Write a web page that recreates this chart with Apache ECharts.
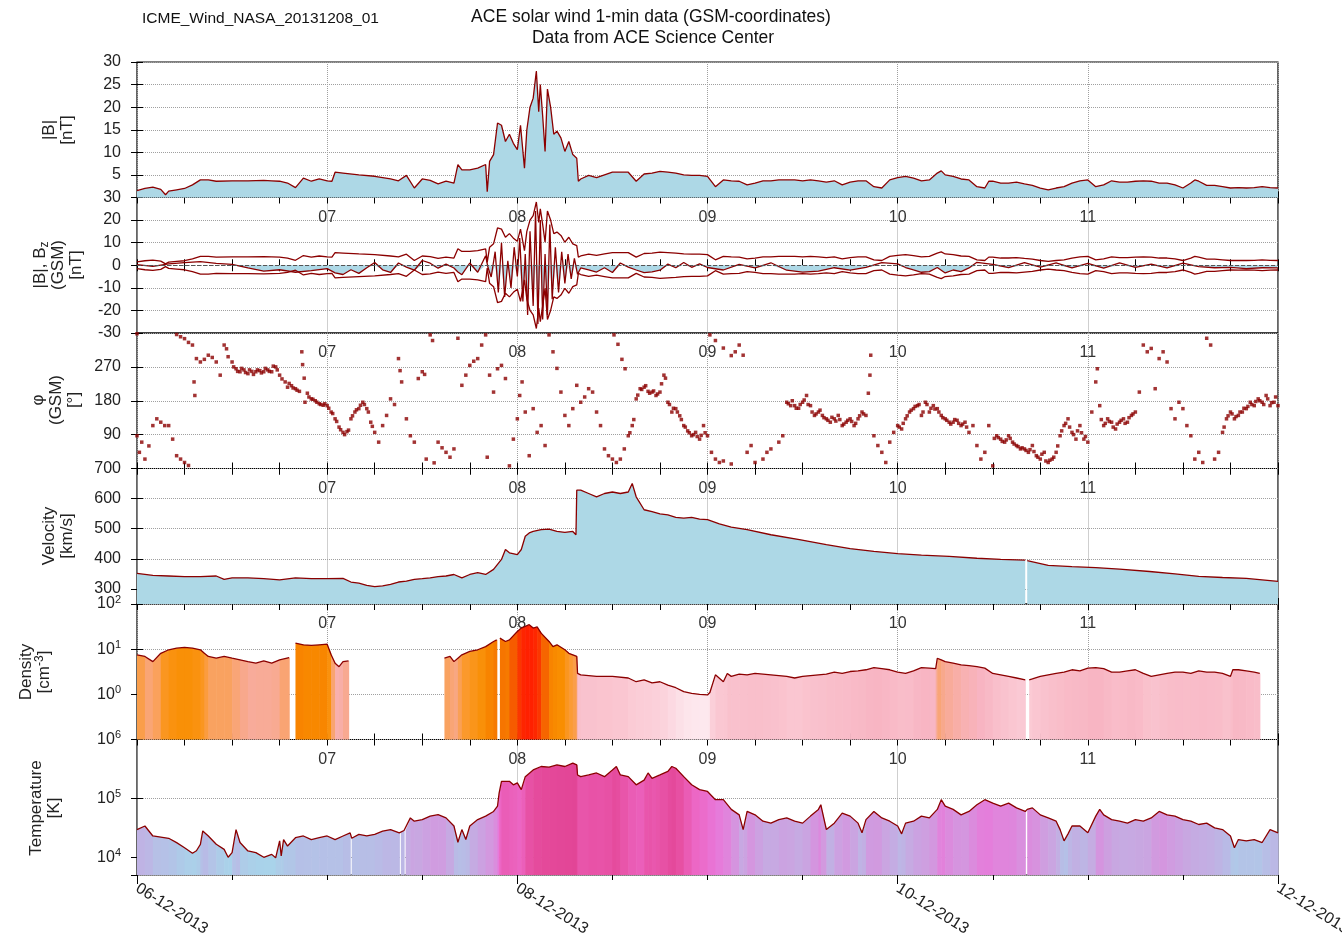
<!DOCTYPE html>
<html>
<head>
<meta charset="utf-8">
<script src="https://cdn.jsdelivr.net/npm/echarts@6/dist/echarts.min.js"></script>
<style>
html,body{margin:0;padding:0;background:#fff}
#chart{width:1342px;height:944px}
</style>
</head>
<body>
<div id="chart"></div>
<script>
// hours after 06-12-2013 00:00
var bMag = [[0,1.5],[1,2],[2,2.3],[3,1.8],[3.6,0.6],[4,1.4],[5,1.7],[6,2],[7,2.8],[8,3.9],[9,3.9],[10,3.6],[12,3.7],[14,3.7],[16,3.8],[17,3.7],[18,3.6],[19,3.2],[20,2.2],[21,4.3],[22,3.6],[23,4.1],[24,3.7],[24.6,3.6],[25,5.6],[26,5.4],[28,5],[30,4.7],[32,4.1],[33,3.7],[34,4.9],[35,2.1],[36,4.1],[37,3.8],[38,3],[39,3.6],[40,3.2],[40.5,7.3],[41,6.1],[42,6.1],[43,6.5],[44,7.3],[44.2,1.3],[44.5,8],[45,9.5],[45.5,16.5],[46,16],[46.5,12.4],[47,14],[47.5,12],[48,10.6],[48.4,16],[48.9,6.5],[49.2,15],[49.6,20],[50,22],[50.4,28],[50.7,19],[50.9,25],[51.2,18],[51.5,10.2],[51.8,24],[52.2,20],[52.6,14],[53,14.7],[53.5,13.2],[54,10.2],[54.5,12.4],[55,9.5],[55.5,8.7],[55.7,3.6],[56,4.1],[57,4.9],[58,4.4],[59,5],[60,5.6],[61,5.6],[62,5.6],[63,3.6],[64,5.2],[65,5.4],[66,5.8],[67,5.6],[68,5.4],[69,5],[70,4.9],[71,4.9],[72,4.7],[73,2.4],[74,3.9],[75,3.7],[76,3.6],[77,2.8],[78,3.2],[79,3.7],[80,3.7],[81,3.9],[82,3.9],[83,3.9],[84,3.7],[85,3.9],[86,3.7],[87,3.4],[88,3.7],[89,2.8],[90,3.4],[91,3.7],[92,3.7],[93,2.4],[94,2.1],[95,3.9],[96,4.4],[97,4.7],[98,4.3],[99,3.7],[100,3.9],[101,5.4],[101.5,5.9],[102,5],[103,4.7],[104,4.1],[105,3.9],[106,2.4],[107,2.1],[107.5,3.6],[108,3.6],[109,3.2],[110,3.2],[111,3.4],[112,3],[113,2.7],[114,2.1],[115,1.7],[116,2.1],[117,2.4],[118,3.2],[119,3.7],[120,3.9],[121,2.4],[122,2.8],[123,3.7],[124,3.4],[125,3.4],[126,3.6],[127,3.7],[128,3.6],[129,3.2],[130,3.2],[131,2.8],[132,2.1],[133,3.2],[133.5,3.9],[134,3.6],[135,2.7],[136,2.7],[137,2.4],[138,2.1],[139,2.2],[140,2.1],[141,2.2],[142,2.4],[143,2.2],[144,2.1]];

var bz = [[0,0.3],[2,-0.5],[4,0.6],[6,1.2],[8,1.6],[10,0.8],[12,0.4],[14,-1.2],[16,-2.6],[18,-2],[20,-3.1],[22,-2.4],[24,-1.5],[25,-3.4],[26,-4.1],[27,-2],[28,-3.6],[29,-1.1],[30,1.2],[31,-2],[32,-3.2],[33,1],[34,-0.8],[35,-2.2],[36,2.1],[37,0.9],[38,-1.3],[39,0.5],[40,-1.2],[40.5,-3],[41,-4.2],[42,1],[43,-3.1],[44,4.2],[44.3,-1],[44.7,-5.2],[45.2,6],[45.6,-12],[46,10],[46.4,-14],[46.8,2],[47.2,-10],[47.6,8],[48,-5],[48.3,12],[48.7,-16],[49,5],[49.3,-22],[49.6,15],[50,-18],[50.3,24],[50.6,-26],[50.9,20],[51.2,-24],[51.5,5],[51.8,-22],[52.1,18],[52.4,-15],[52.8,8],[53.2,-12],[53.6,6],[54,-8],[54.4,5],[54.8,-6],[55.2,3],[55.6,-4],[56,-1.2],[57,-2.1],[58,-3],[59,-1.1],[60,-3.2],[61,1],[62,-0.8],[63,-2.1],[64,-3.3],[65,-2.9],[66,-2.2],[67,0.5],[68,-1.1],[69,1.2],[70,-0.9],[71,0.6],[72,-1],[74,-2.1],[76,0.4],[78,-1.2],[80,1.1],[82,-2.2],[84,-3],[86,-2.6],[88,-1.1],[90,-2.2],[92,-0.9],[94,1.2],[96,0.6],[97,-1],[98,-2.1],[99,-3.1],[100,-2.8],[101,-1],[102,-3.4],[103,-2.1],[104,-2.8],[105,-1.2],[106,1.3],[108,0.4],[110,-1.1],[112,1.2],[114,-0.8],[116,1.1],[118,-1.2],[120,0.8],[122,-1.3],[124,1],[126,-0.9],[128,0.5],[130,-1.2],[132,0.9],[134,-0.6],[136,-1.1],[138,-0.9],[140,-1.5],[142,-1.1],[144,-1.2]];

var phi = [[0,358],[0,87],[0.3,43],[0.6,70],[1,25],[1.5,60],[2,114],[2.5,132],[3,123],[3.5,114],[4,114],[4.5,78],[5,34],[5.5,25],[6,16],[6.5,8],[5,356],[5.5,350],[6,345],[6.5,335],[7,328],[7.2,230],[7.3,194],[7.5,292],[8,283],[8.5,290],[9,301],[9.5,295],[10,283],[10.5,248],[11,328],[11.3,318],[11.5,297],[12,283],[12.5,265],[13,257],[13.5,262],[14,252],[14.5,258],[15,257],[15.5,260],[16,257],[16.5,262],[17,257],[17.5,270],[18,248],[18.3,238],[19,216],[19.5,220],[20,212],[20.5,205],[20.8,310],[20.9,276],[21.1,240],[21.2,176],[21.5,200],[22,185],[22.5,180],[23,172],[23.5,168],[24,167],[24.5,150],[25,132],[25.5,110],[26,96],[26.5,98],[27,132],[27.5,150],[28,159],[28.5,176],[29,159],[29.5,123],[30,96],[30.5,70],[31,114],[31.5,141],[32,185],[32.5,170],[33,292],[33.2,260],[33.4,230],[34,132],[34.5,87],[35,70],[35.5,239],[36,257],[36.3,250],[36.5,25],[37,355],[37.3,340],[37.5,15],[38,70],[38.5,55],[39,43],[39.5,30],[40,52],[40.5,346],[41,221],[41.5,248],[42,274],[42.5,285],[43,292],[43.5,328],[44,355],[44.2,30],[44.5,248],[45,203],[45.5,265],[46,274],[46.5,239],[47,7],[47.5,78],[48,132],[48.3,194],[48.6,230],[49,150],[49.5,34],[50,159],[50.5,96],[51,114],[51.5,61],[52,355],[52.5,310],[53,266],[53.5,203],[54,141],[54.5,114],[55,159],[55.5,221],[56,176],[56.5,190],[57,212],[57.5,203],[58,150],[58.5,114],[59,52],[59.5,34],[60,25],[60.5,16],[61,25],[61.5,52],[60.2,355],[60.7,330],[61.2,290],[61.6,265],[62,87],[62.5,114],[63,185],[63.5,212],[64,216],[64.5,205],[65,203],[65.5,194],[66,203],[66.5,248],[67,176],[67.5,150],[68,159],[68.5,140],[69,114],[69.5,100],[70,87],[70.5,96],[71,78],[71.5,114],[72,87],[72.5,43],[73,25],[73.5,16],[74,20],[75,12],[72.3,355],[73,340],[74,320],[75,300],[75.5,310],[76,328],[76.5,301],[77,43],[77.5,61],[78,16],[79,25],[79.5,43],[80,52],[81,70],[81.5,87],[82,176],[82.5,167],[83,167],[83.5,160],[84,176],[84.5,194],[85,167],[85.5,141],[86,150],[86.5,141],[87,132],[87.5,123],[88,132],[88.5,141],[89,114],[89.5,123],[90,132],[90.5,114],[91,132],[91.5,150],[92,141],[92.3,200],[92.5,248],[92.6,301],[93,87],[93.5,61],[94,43],[94.5,16],[95,70],[95.5,96],[96,114],[96.5,105],[97,132],[97.5,150],[98,159],[98.5,167],[99,141],[99.5,176],[100,150],[100.5,167],[101,159],[101.5,141],[102,132],[102.5,123],[103,123],[103.5,128],[104,114],[104.5,123],[105,96],[105.5,114],[106,61],[106.5,25],[107,43],[107.5,114],[108,7],[108.5,87],[109,78],[109.5,70],[110,87],[110.5,70],[111,61],[111.5,52],[112,52],[112.5,43],[113,61],[113.5,34],[114,25],[114.5,43],[115,16],[115.5,25],[116,43],[116.5,87],[117,114],[117.5,132],[118,96],[118.5,78],[119,114],[119.5,78],[120,70],[120.5,150],[121,230],[121.2,265],[121.5,167],[122,114],[122.5,132],[123,123],[123.5,105],[124,123],[124.5,132],[125,123],[125.5,141],[126,150],[126.5,203],[127,328],[127.5,310],[128,319],[128.5,212],[129,292],[129.5,310],[130,283],[130.5,159],[131,132],[131.5,176],[132,159],[132.5,114],[133,87],[133.5,25],[134,43],[134.5,16],[135,346],[135.5,328],[136,25],[136.5,43],[137,96],[137.5,132],[138,150],[138.5,132],[139,141],[139.5,150],[140,159],[140.5,176],[141,167],[141.5,185],[142,176],[142.5,194],[143,167],[143.5,176],[144,167],
	[12.2,270],[12.7,258],[13.2,266],[13.7,255],[14.2,262],[14.7,250],[15.2,262],[15.7,254],[16.2,266],[16.7,258],[17.2,272],[17.7,262],[18.7,230],[19.2,226],[19.7,214],[20.2,208],[21.7,190],[22.2,184],[22.7,176],[23.2,170],[23.7,172],[24.2,160],[24.7,146],[25.2,125],[25.7,103],[26.2,90],[26.7,102],[27.2,140],[27.7,156],[28.2,168],[28.7,170],[29.2,150],[29.7,112],
	[62.2,95],[62.7,130],[63.2,195],[63.7,210],[64.2,220],[64.7,200],[65.2,206],[65.7,198],[66.2,225],[66.7,240],[67.2,170],[67.7,160],[68.2,150],[68.7,130],[69.2,110],[69.7,95],[70.2,90],[70.7,85],[71.2,88],[71.7,95],
	[82.2,172],[82.7,180],[83.2,160],[83.7,170],[84.2,182],[84.7,170],[85.2,150],[85.7,145],[86.2,155],[86.7,135],[87.2,128],[87.7,136],[88.2,126],[88.7,130],[89.2,118],[89.7,128],[90.2,125],[90.7,120],[91.2,140],[91.7,145],
	[96.2,110],[96.7,120],[97.2,140],[97.7,155],[98.2,165],[98.7,170],[99.2,150],[99.7,170],[100.2,160],[100.7,158],[101.2,150],[101.7,135],[102.2,128],[102.7,118],[103.2,130],[103.7,120],[104.2,118],[104.7,110],
	[108.2,80],[108.7,82],[109.2,72],[109.7,76],[110.2,80],[110.7,65],[111.2,58],[111.7,55],[112.2,48],[112.7,50],[113.2,45],[113.7,30],[114.2,38],[114.7,20],[115.2,22],[115.7,30],[116.2,60],[116.7,100],[117.2,120],[117.7,110],[118.2,90],[118.7,100],[119.2,95],[119.7,85],
	[121.7,130],[122.2,120],[122.7,125],[123.2,110],[123.7,118],[124.2,128],[124.7,120],[125.2,135],[125.7,145],
	[137.2,110],[137.7,140],[138.2,145],[138.7,138],[139.2,150],[139.7,160],[140.2,165],[140.7,170],[141.2,178],[141.7,180],[142.2,170],[142.7,185],[143.2,175],[143.7,190]];

var velocity = [[0,352],[2,345],[4,343],[6,341],[8,341],[10,343],[11,332],[12,337],[14,337],[16,334],[18,330],[20,337],[22,334],[24,334],[26,335],[27,323],[28,319],[29,312],[30,308],[31,310],[32,315],[33,323],[34,326],[35,332],[36,334],[37,337],[38,341],[39,343],[40,348],[41,337],[42,348],[43,354],[44,348],[45,365],[46,398],[46.5,431],[47,420],[48,414],[48.5,431],[49,475],[49.5,486],[50,491],[51,497],[52,499],[53,491],[54,488],[55,491],[55.4,480],[55.5,628],[56,628],[57,617],[58,606],[59,617],[60,622],[61,617],[62,622],[62.5,650],[63,606],[64,563],[65,557],[66,549],[67,546],[68,538],[69,535],[70,538],[71,532],[72,530],[73.5,516],[75,505],[77,497],[80,480],[83.6,464],[87,447],[90,434],[93,425],[96,417],[99,412],[102.5,408],[106,402],[109,398],[112.1,396],[112.2,null],[112.35,394],[115,378],[118,374],[121,371],[124,366],[127.8,358],[131,350],[134,342],[137,338],[140,335],[142,330],[144,325]];

var density = [[0,7.5],[1,6.9],[2,5.3],[3,8.1],[4,9.7],[5,10.5],[6,10.9],[7,10.5],[8,9.7],[8.5,8.1],[9,6.9],[10,6.3],[11,6.9],[12,6.3],[13,5.8],[14,5.3],[15,4.9],[16,5.5],[17,4.9],[18,5.8],[19.2,6.5],[19.3,null],[20,13.6],[21,12.5],[22,12.1],[23,12.5],[24,12.9],[24.5,7.5],[25,4.9],[25.5,4.1],[26,5.3],[26.7,5.5],[26.8,null],[38.8,6.3],[39.5,6.9],[40,5.3],[40.5,6.3],[41,7.5],[42,8.9],[43,9.7],[44,11.4],[45,14.8],[45.4,16.1],[45.6,null],[45.8,17.6],[46.5,14.8],[47,16.1],[48,24.7],[48.5,29.3],[49,31.9],[49.5,34.8],[50,29.3],[50.5,31],[51,22.7],[52,14.8],[52.5,11.4],[53,12.5],[54,9.7],[54.5,8.1],[55,7.5],[55.5,6.9],[55.6,2.9],[56,2.7],[58,2.5],[60,2.5],[62,2.3],[63,1.9],[64,2.1],[65,1.8],[66,1.9],[67,1.6],[68,1.4],[69,1.15],[70,1.05],[71,1.0],[72,0.97],[72.3,1.1],[73,2.7],[74,1.9],[74.5,2.9],[75,2.5],[76,2.8],[77,2.7],[78,2.9],[79,2.8],[80,2.7],[81,2.6],[82,2.5],[83,2.3],[84,2.5],[85,2.6],[86,2.7],[87,2.8],[88,3.1],[89,2.9],[90,3.2],[91,3.3],[92,3.5],[93,3.9],[94,3.7],[95,3.5],[96,3.1],[97,2.9],[98,3.3],[99,3.9],[100,3.8],[100.8,3.7],[101,6.3],[101.5,5.8],[102,5.3],[103,4.9],[104,4.5],[105,4.3],[106,4.1],[107,3.8],[108,2.9],[109,2.7],[110,2.5],[111,2.3],[112.1,2.1],[112.2,null],[112.6,2.1],[113,2.2],[114,2.5],[115,2.7],[116,2.9],[117,3.1],[118,3.5],[119,3.3],[120,3.8],[121,3.9],[122,3.7],[123,3.1],[124,3.1],[125,3.3],[126,3.5],[127,2.9],[128,2.5],[129,2.7],[130,2.9],[131,3.1],[132,3.1],[133,2.9],[134,3.3],[135,3.1],[136,3.1],[137,2.9],[138,2.5],[138.3,3.5],[139,3.5],[140,3.3],[141,3.1],[141.7,2.9]];

var temperature = [[0,29500],[1,34000],[2,23000],[3,22000],[4,21000],[5,17700],[6,14500],[7,11700],[7.5,12900],[8,16500],[8.3,28000],[9,23000],[10,16600],[11,13600],[11.5,10000],[12,12000],[12.5,29500],[13,17800],[14,12800],[15,12000],[16,10000],[17,11200],[17.5,9800],[18,19000],[18.2,10500],[18.5,20000],[19,15500],[20,21500],[21,23000],[22,20000],[23,21500],[24,23000],[25,20000],[26,23000],[26.9,26000],[27,null],[27.1,21000],[28,24500],[29,23000],[30,24500],[31,27700],[32,29600],[33.1,26000],[33.2,null],[33.3,28000],[33.7,28500],[33.8,null],[33.9,29000],[34.5,46600],[35,41000],[36,43600],[37,50000],[38,52900],[39,46600],[40,34000],[40.5,18000],[41,29500],[41.5,20000],[42,34000],[43,43600],[44,50000],[45,60000],[45.5,74000],[45.7,123000],[46,195000],[47,195000],[47.5,170000],[48,183000],[48.5,141000],[49,234000],[50,304000],[51,348000],[52,339000],[53,370000],[54,348000],[55,398000],[55.5,370000],[55.6,250000],[56,234000],[57,250000],[58,270000],[59,234000],[60,304000],[60.5,348000],[61,250000],[62,234000],[63,170000],[64,204000],[64.5,270000],[65,219000],[65.5,234000],[66,250000],[67,288000],[67.5,348000],[68,325000],[69,234000],[70,170000],[71,141000],[72,131000],[73,95000],[74,95000],[75,65000],[76,52500],[76.5,29500],[77,60000],[78,52500],[79,41000],[80,38000],[81,43600],[82,46600],[83,41000],[84,38000],[85,50000],[86,65000],[86.3,78000],[87,29500],[88,38000],[89,56000],[90,50000],[91,38000],[91.5,26000],[92,43600],[93,60000],[94,46600],[95,41000],[96,34000],[96.5,25000],[97,38000],[98,41000],[99,50000],[100,46600],[101,65000],[101.5,95000],[102,74000],[103,65000],[104,52500],[105,60000],[106,78000],[107,95000],[108,83000],[109,74000],[110,83000],[111,69000],[112.1,60000],[112.2,null],[112.35,65000],[113,69000],[114,52500],[115,46600],[116,41000],[116.5,29500],[117,19000],[117.5,25000],[118,34000],[119,34000],[120,26000],[121,50000],[121.5,65000],[122,52500],[123,43600],[124,41000],[125,38000],[126,43600],[127,41000],[128,46600],[129,60000],[130,52500],[131,50000],[132,43600],[133,41000],[134,36000],[135,38000],[136,31500],[137,29500],[138,23000],[138.5,14500],[139,20000],[140,19000],[141,20000],[142,17800],[143,29500],[144,26000]];

var dayLabels = ['06', '07', '08', '09', '10', '11', '12'];
var dateLabels = ['06-12-2013', '08-12-2013', '10-12-2013', '12-12-2013'];
var velocityTicks = [300, 400, 500, 600, 700];

var FONT = "'Liberation Sans',Arial,sans-serif";
var LINE = '#8b0000';
var FILL = '#add8e6';
var TOP = 62, H = 135.5, LEFT = 137, W = 1141;

// polygons under a line, coloured by log10 of the value
function fillData(arr, lo, hi){
	var out = [];
	for(var i=0;i<arr.length-1;i++){
		var a = arr[i], b = arr[i+1];
		if(a[1]==null || b[1]==null) continue;
		var c = Math.log10((a[1]+b[1])/2);
		c = Math.max(lo, Math.min(hi, c));
		out.push([a[0], b[0], a[1], b[1], c]);
	}
	return out;
}

function renderFill(params, api){
	var p0 = api.coord([api.value(0), api.value(2)]);
	var p1 = api.coord([api.value(1), api.value(3)]);
	var base = params.coordSys.y + params.coordSys.height;
	return {
		type: 'polygon',
		shape: {points: [[p0[0], p0[1]], [p1[0]+0.6, p1[1]], [p1[0]+0.6, base], [p0[0], base]]},
		style: {fill: api.visual('color')}
	};
}

var grids = [], xAxes = [], yAxes = [];
for(var i=0;i<6;i++){
	grids.push({left:LEFT, top:TOP+i*H, width:W, height:H, show:true, borderColor:'#000', borderWidth:1.2,
		backgroundColor:'transparent', containLabel:false, outerBoundsMode:'none'});
	var last = (i == 5);
	// bottom axis
	xAxes.push({
		gridIndex:i, type:'value', min:0, max:144, interval: last ? 48 : 24, position:'bottom',
		axisLine:{show:false},
		axisTick:{show:true, inside:!last, length: last ? 9 : 6, lineStyle:{color:'#000'}},
		minorTick:{show:true, splitNumber:4, length: last ? 5 : 6, lineStyle:{color:'#000'}},
		splitLine:{show:true, lineStyle:{color:'#a0a0a0', type:'dotted', width:1}},
		axisLabel: last ? {
			rotate:-32, margin:12, fontSize:16, color:'#222', fontFamily:FONT,
			formatter:function(v){ return dateLabels[v/48] || ''; }
		} : {
			margin:12, fontSize:16, color:'#333', fontFamily:FONT,
			formatter:function(v){ return (v>0 && v<144) ? dayLabels[v/24] : ''; }
		}
	});
	// mirrored ticks on top
	xAxes.push({
		gridIndex:i, type:'value', min:0, max:144, interval:24, position:'top',
		axisLine:{show:false},
		axisTick:{show:true, inside:true, length:6, lineStyle:{color:'#000'}},
		minorTick:{show:true, splitNumber:4, length:6, lineStyle:{color:'#000'}},
		splitLine:{show:false}, axisLabel:{show:false}
	});
}

var labelBase = {margin:16, fontSize:16, color:'#222', fontFamily:FONT};
var supRich = {sup:{fontSize:11, fontFamily:FONT, color:'#222', padding:[0,0,9,0]}};
function logLabel(v){ return '10{sup|' + Math.round(Math.log10(v)) + '}'; }

var ySpecs = [
	{type:'value', min:0, max:30, interval:5, label:{showMinLabel:false}},
	{type:'value', min:-30, max:30, interval:10, label:{}},
	{type:'value', min:0, max:360, interval:90, label:{showMinLabel:false, showMaxLabel:false}},
	{type:'value', min:250, max:700, custom:velocityTicks, label:{}},
	{type:'log', min:0.1, max:100, label:{showMinLabel:false, formatter:logLabel, rich:supRich}},
	{type:'log', min:5000, max:1000000, label:{showMinLabel:false, formatter:function(v){ return Math.abs(Math.log10(v)%1)<1e-6 ? logLabel(v) : ''; }, rich:supRich}}
];

ySpecs.forEach(function(s, i){
	var lab = Object.assign({}, labelBase, s.label);
	var tick = {show:true, inside:true, length:6, lineStyle:{color:'#000'}};
	if(s.custom){ lab.customValues = s.custom; tick.customValues = s.custom; }
	var left = {
		gridIndex:i, type:s.type, min:s.min, max:s.max, position:'left',
		axisLine:{show:false}, axisTick:tick, axisLabel:lab,
		splitLine:{show:true, lineStyle:{color:'#a0a0a0', type:'dotted', width:1}}
	};
	if(s.interval) left.interval = s.interval;
	if(s.type == 'log') left.logBase = 10;
	var right = Object.assign({}, left, {
		position:'right', axisLabel:{show:false}, splitLine:{show:false},
		axisTick:Object.assign({}, tick)
	});
	yAxes.push(left, right);
});

var lineBase = {type:'line', showSymbol:false, symbol:'none', animation:false, connectNulls:false,
	lineStyle:{color:LINE, width:1.3}, itemStyle:{color:LINE}};

var series = [
	Object.assign({}, lineBase, {xAxisIndex:0, yAxisIndex:0, data:bMag, areaStyle:{color:FILL, opacity:1, origin:'start'}}),
	Object.assign({}, lineBase, {xAxisIndex:2, yAxisIndex:2, data:bz.map(function(p){ return [p[0], Math.min(p[1], 0)]; }),
		lineStyle:{width:0, color:FILL}, areaStyle:{color:FILL, opacity:1, origin:0}}),
	Object.assign({}, lineBase, {xAxisIndex:2, yAxisIndex:2, data:bMag}),
	Object.assign({}, lineBase, {xAxisIndex:2, yAxisIndex:2, data:bMag.map(function(p){ return [p[0], -p[1]]; })}),
	Object.assign({}, lineBase, {xAxisIndex:2, yAxisIndex:2, data:bz,
		markLine:{silent:true, symbol:'none', label:{show:false}, lineStyle:{color:'#555', type:'dashed', width:1}, data:[{yAxis:0}]}}),
	{type:'scatter', xAxisIndex:4, yAxisIndex:4, data:phi, symbol:'rect', symbolSize:3.5, itemStyle:{color:LINE}, animation:false},
	Object.assign({}, lineBase, {xAxisIndex:6, yAxisIndex:6, data:velocity, areaStyle:{color:FILL, opacity:1, origin:'start'}}),
	{type:'custom', xAxisIndex:8, yAxisIndex:8, data:fillData(density, 0, 1.5), renderItem:renderFill, animation:false,
		encode:{x:[0,1], y:[2,3]}},
	Object.assign({}, lineBase, {xAxisIndex:8, yAxisIndex:8, data:density}),
	{type:'custom', xAxisIndex:10, yAxisIndex:10, data:fillData(temperature, 4, 5.6), renderItem:renderFill, animation:false,
		encode:{x:[0,1], y:[2,3]}},
	Object.assign({}, lineBase, {xAxisIndex:10, yAxisIndex:10, data:temperature, connectNulls:true})
];

function yName(x, y, text){
	return {type:'text', x:x, y:y, rotation:Math.PI/2, silent:true,
		style:{text:text, fontSize:17, fontFamily:FONT, fill:'#222', align:'center', verticalAlign:'middle', lineHeight:18,
			rich:{sub:{fontSize:12, fontFamily:FONT, fill:'#222', padding:[9,0,0,0]}, sup:{fontSize:12, fontFamily:FONT, fill:'#222', padding:[0,0,9,0]}}}};
}

var option = {
	animation:false,
	textStyle:{fontFamily:FONT},
	grid:grids,
	xAxis:xAxes,
	yAxis:yAxes,
	visualMap:[
		{type:'continuous', show:false, seriesIndex:7, dimension:4, min:0, max:1.5,
			inRange:{color:['#fde8ee','#fcdce4','#fbcdd7','#f9bfcb','#f8b4c2','#f8a88a','#fb9a30','#f98e00','#f67800','#f65000','#ff2000']}},
		{type:'continuous', show:false, seriesIndex:9, dimension:4, min:4, max:5.6,
			inRange:{color:['#a8d4ea','#aecbe8','#b8bce6','#c6aae2','#d890de','#e878da','#ec66c4','#e853a8','#e24494']}}
	],
	series:series,
	graphic:[
		{type:'text', x:142, y:19, silent:true, style:{text:'ICME_Wind_NASA_20131208_01', fontSize:15.5, fontFamily:FONT, fill:'#111', align:'left', verticalAlign:'middle'}},
		{type:'text', x:651, y:17, silent:true, style:{text:'ACE solar wind 1-min data (GSM-coordinates)', fontSize:17.5, fontFamily:FONT, fill:'#111', align:'center', verticalAlign:'middle'}},
		{type:'text', x:653, y:38, silent:true, style:{text:'Data from ACE Science Center', fontSize:17.5, fontFamily:FONT, fill:'#111', align:'center', verticalAlign:'middle'}},
		yName(58, 130, '|B|\n[nT]'),
		yName(58, 265, '|B|, B{sub|z}\n(GSM)\n[nT]'),
		yName(56, 400, 'φ\n(GSM)\n[°]'),
		yName(58, 536, 'Velocity\n[km/s]'),
		yName(35, 672, 'Density\n[cm{sup|-3}]'),
		yName(45, 808, 'Temperature\n[K]')
	]
};

var chart = echarts.init(document.getElementById('chart'));
chart.setOption(option);
</script>
</body>
</html>
